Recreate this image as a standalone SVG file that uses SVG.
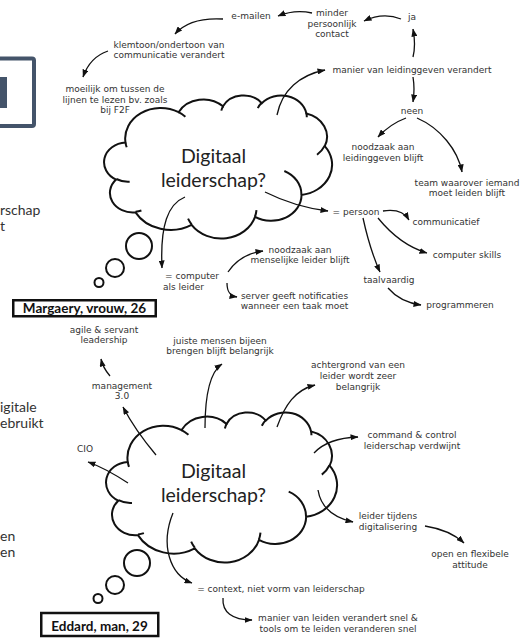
<svg xmlns="http://www.w3.org/2000/svg" width="526" height="640" viewBox="0 0 526 640">
  <style>
    .lbl { font-family: "DejaVu Sans", Verdana, sans-serif; font-size: 9px; fill: #333; text-anchor: middle; }
    .title { font-family: Lato, "Open Sans", sans-serif; font-size: 19.5px; fill: #222; text-anchor: middle; }
    .side { font-family: Lato, "Open Sans", sans-serif; font-size: 14px; fill: #333; }
    .name { font-family: Lato, "Open Sans", sans-serif; font-weight: bold; font-size: 13.5px; fill: #111; text-anchor: middle; }
    .cloud { fill: #fff; stroke: #111; stroke-width: 2; }
    .inner { fill: none; stroke: #111; stroke-width: 2; }
    .bubble { fill: #fff; stroke: #111; stroke-width: 2; }
    .arr { fill: none; stroke: #111; stroke-width: 1.3; marker-end: url(#head); }
    .namebox { fill: #fff; stroke: #111; stroke-width: 2.5; }
  </style>
  <defs>
    <marker id="head" viewBox="0 0 8 6" refX="7.5" refY="3" markerWidth="8" markerHeight="6" markerUnits="userSpaceOnUse" orient="auto">
      <path d="M0,0 L8,3 L0,6 Z" fill="#111"/>
    </marker>
    <!-- cloud outline in a 43200 x 43200 box -->
    <path id="cloudOutline" vector-effect="non-scaling-stroke" d="M3900,14370 A6753,9190 0 0 1 14005,5203 A5333,7267 0 0 1 22455,3432 A4365,5945 0 0 1 29833,2481 A4857,6595 0 0 1 38319,5575 A5333,7273 0 0 1 41819,15459 A6775,9220 0 0 1 37404,30201 A5785,7867 0 0 1 28556,36811 A6752,9215 0 0 1 16481,39263 A7720,10543 0 0 1 5804,35467 A4360,5918 0 0 1 2112,25545 A4345,5945 0 0 1 3900,14370 Z"/>
    <!-- small inner arcs where the lobes meet -->
    <path id="cloudInner" vector-effect="non-scaling-stroke" d="M4693,26177 A4345,5945 0 0 1 2160,25380 M6928,34899 A4360,5918 0 0 1 5820,35281 M16478,39090 A6752,9215 0 0 1 15810,37349 M28827,34751 A6752,9215 0 0 1 28560,36660 M34129,22954 A5785,7867 0 0 1 37381,30090 M41798,15354 A5333,7273 0 0 1 40350,18030 M38324,5426 A4857,6595 0 0 1 38400,6690 M29078,3952 A4857,6595 0 0 1 29819,2340 M22141,4720 A4365,5945 0 0 1 22500,3331 M14000,5192 A6753,9190 0 0 1 15299,6539 M4127,15789 A6753,9190 0 0 1 3900,14371"/>
  </defs>

  <rect width="526" height="640" fill="#fff"/>

  <!-- partial slide elements at the left edge -->
  <g id="frame">
    <rect x="-10" y="58.5" width="44" height="67.5" rx="2" fill="none" stroke="#44546a" stroke-width="4"/>
    <rect x="-2" y="77" width="9" height="31" fill="#44546a"/>
  </g>
  <g id="side-text">
    <text class="side" x="0" y="215">rschap<tspan x="0" dy="16">t</tspan></text>
    <text class="side" x="0" y="412">igitale<tspan x="0" dy="16">ebruikt</tspan></text>
    <text class="side" x="0" y="541">en<tspan x="0" dy="16">en</tspan></text>
  </g>

  <!-- upper thought cloud -->
  <g id="cloud-top">
    <use href="#cloudOutline" class="cloud" transform="translate(105,95) scale(0.0052546,0.0033102)"/>
    <use href="#cloudInner" class="inner" transform="translate(105,95) scale(0.0052546,0.0033102)"/>
    <circle class="bubble" cx="139" cy="246" r="13"/>
    <circle class="bubble" cx="115" cy="268" r="9"/>
    <circle class="bubble" cx="99" cy="282.5" r="4.5"/>
    <text class="title" x="213.5" y="163">Digitaal</text>
    <text class="title" x="213.5" y="186.5">leiderschap?</text>
  </g>

  <!-- lower thought cloud -->
  <g id="cloud-bottom">
    <use href="#cloudOutline" class="cloud" transform="translate(107,412) scale(0.005324,0.003472)"/>
    <use href="#cloudInner" class="inner" transform="translate(107,412) scale(0.005324,0.003472)"/>
    <circle class="bubble" cx="137" cy="563" r="13"/>
    <circle class="bubble" cx="115" cy="585" r="9"/>
    <circle class="bubble" cx="98" cy="598.5" r="4.5"/>
    <text class="title" x="213.5" y="478">Digitaal</text>
    <text class="title" x="213.5" y="502">leiderschap?</text>
  </g>

  <g id="name-margaery">
    <rect class="namebox" x="13.25" y="300.25" width="142.5" height="16"/>
    <text class="name" x="84.5" y="312.5">Margaery, vrouw, 26</text>
  </g>
  <g id="name-eddard">
    <rect class="namebox" x="41.25" y="613" width="117" height="23"/>
    <text class="name" x="99.5" y="630.5">Eddard, man, 29</text>
  </g>

  <!-- labels, upper map -->
  <g id="n-emailen"><text class="lbl" x="251" y="19">e-mailen</text></g>
  <g id="n-minder"><text class="lbl" x="332" y="16">minder</text><text class="lbl" x="332" y="26.5">persoonlijk</text><text class="lbl" x="332" y="37">contact</text></g>
  <g id="n-ja"><text class="lbl" x="412" y="20">ja</text></g>
  <g id="n-klemtoon"><text class="lbl" x="169" y="47.5">klemtoon/ondertoon van</text><text class="lbl" x="169" y="58">communicatie verandert</text></g>
  <g id="n-moeilijk"><text class="lbl" x="115" y="91.5">moeilijk om tussen de</text><text class="lbl" x="115" y="102.5">lijnen te lezen bv. zoals</text><text class="lbl" x="115" y="113">bij F2F</text></g>
  <g id="n-manier"><text class="lbl" x="412" y="72.5">manier van leidinggeven verandert</text></g>
  <g id="n-neen"><text class="lbl" x="412" y="113.5">neen</text></g>
  <g id="n-noodzaak"><text class="lbl" x="383" y="150">noodzaak aan</text><text class="lbl" x="383" y="160.5">leidinggeven blijft</text></g>
  <g id="n-team"><text class="lbl" x="467" y="185.5">team waarover iemand</text><text class="lbl" x="467" y="196">moet leiden blijft</text></g>
  <g id="n-persoon"><text class="lbl" x="356" y="214.5">= persoon</text></g>
  <g id="n-communicatief"><text class="lbl" x="446" y="225">communicatief</text></g>
  <g id="n-skills"><text class="lbl" x="467" y="258">computer skills</text></g>
  <g id="n-taalvaardig"><text class="lbl" x="389" y="283">taalvaardig</text></g>
  <g id="n-programmeren"><text class="lbl" x="460" y="307.5">programmeren</text></g>
  <g id="n-computer"><text class="lbl" x="192" y="279">= computer</text><text class="lbl" x="183.5" y="289.5">als leider</text></g>
  <g id="n-menselijk"><text class="lbl" x="300" y="252.5">noodzaak aan</text><text class="lbl" x="300" y="263">menselijke leider blijft</text></g>
  <g id="n-server"><text class="lbl" x="294.5" y="298.5">server geeft notificaties</text><text class="lbl" x="294.5" y="309">wanneer een taak moet</text></g>

  <!-- labels, lower map -->
  <g id="n-agile"><text class="lbl" x="104" y="332.5">agile &amp; servant</text><text class="lbl" x="104" y="343">leadership</text></g>
  <g id="n-juiste"><text class="lbl" x="220" y="343.5">juiste mensen bijeen</text><text class="lbl" x="220" y="354">brengen blijft belangrijk</text></g>
  <g id="n-management"><text class="lbl" x="122" y="388.5">management</text><text class="lbl" x="122" y="399">3.0</text></g>
  <g id="n-achtergrond"><text class="lbl" x="358" y="367.5">achtergrond van een</text><text class="lbl" x="358" y="378.5">leider wordt zeer</text><text class="lbl" x="358" y="389.5">belangrijk</text></g>
  <g id="n-cio"><text class="lbl" x="85" y="451.5">CIO</text></g>
  <g id="n-command"><text class="lbl" x="412" y="438">command &amp; control</text><text class="lbl" x="412" y="449">leiderschap verdwijnt</text></g>
  <g id="n-tijdens"><text class="lbl" x="388" y="518.5">leider tijdens</text><text class="lbl" x="388" y="530">digitalisering</text></g>
  <g id="n-open"><text class="lbl" x="470" y="556.5">open en flexibele</text><text class="lbl" x="470" y="567.5">attitude</text></g>
  <g id="n-context"><text class="lbl" x="281" y="591.5">= context, niet vorm van leiderschap</text></g>
  <g id="n-snel"><text class="lbl" x="338" y="620.5">manier van leiden verandert snel &amp;</text><text class="lbl" x="338" y="631.5">tools om te leiden veranderen snel</text></g>

  <!-- connectors -->
  <g id="connectors">
    <path class="arr" d="M401,19 Q383,12 364,21"/>
    <path class="arr" d="M312,13 Q295,9 278,16"/>
    <path class="arr" d="M223,19 Q190,17 175,34"/>
    <path class="arr" d="M108,51 Q90,57 83,77"/>
    <path class="arr" d="M277,115 C282,90 300,75 325,70"/>
    <path class="arr" d="M413,57 Q416,45 413,29"/>
    <path class="arr" d="M413,77 Q415,89 413,102"/>
    <path class="arr" d="M406,118 Q390,124 378,137"/>
    <path class="arr" d="M417,118 C440,128 458,150 462,172"/>
    <path class="arr" d="M265,192 Q295,207 328,211"/>
    <path class="arr" d="M383,211 Q402,208 409,220"/>
    <path class="arr" d="M378,218 Q400,245 427,253"/>
    <path class="arr" d="M363,218 Q370,250 380,272"/>
    <path class="arr" d="M388,288 Q400,302 421,305"/>
    <path class="arr" d="M185,197 C168,204 160,225 162,268"/>
    <path class="arr" d="M228,272 Q240,254 263,251"/>
    <path class="arr" d="M227,283 C227,292 230,296 237,297"/>

    <path class="arr" d="M110,376 Q103,368 101,359"/>
    <path class="arr" d="M156,455 Q135,430 123,407"/>
    <path class="arr" d="M128,483 Q105,468 88,462"/>
    <path class="arr" d="M205,428 C205,395 210,372 222,364"/>
    <path class="arr" d="M277,427 C285,405 295,390 315,385"/>
    <path class="arr" d="M314,453 Q328,438 358,437"/>
    <path class="arr" d="M318,490 Q322,515 353,522"/>
    <path class="arr" d="M425,526 Q450,530 464,543"/>
    <path class="arr" d="M173,513 C160,545 170,575 192,583"/>
    <path class="arr" d="M223,598 C222,612 232,620 252,620"/>
  </g>
</svg>
